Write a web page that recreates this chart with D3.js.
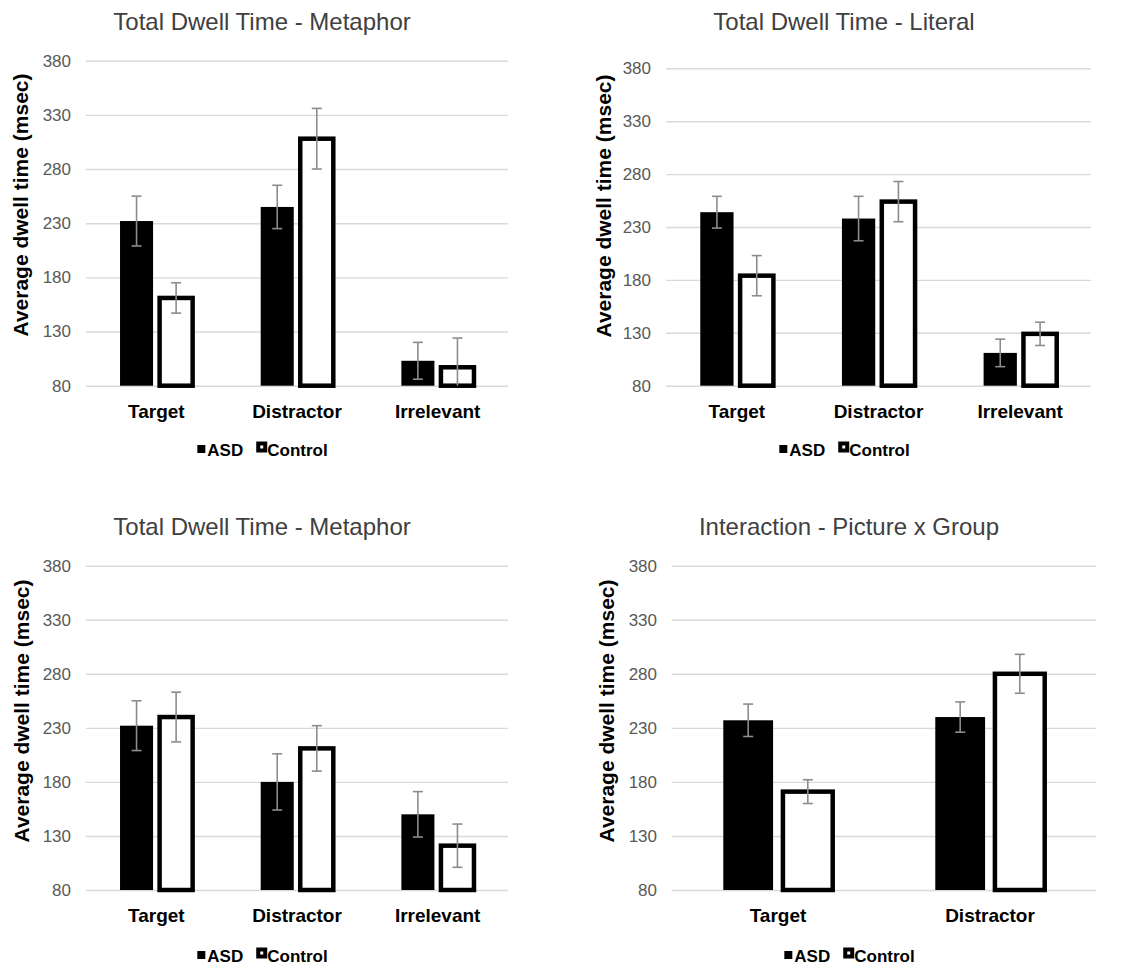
<!DOCTYPE html>
<html>
<head>
<meta charset="utf-8">
<script src="https://cdnjs.cloudflare.com/ajax/libs/d3/7.8.5/d3.min.js"></script>
<style>
  body { margin: 0; background: #fff; }
  svg { font-family: "Liberation Sans", Arial, sans-serif; }
</style>
</head>
<body>
<svg id="chart" width="1135" height="966"></svg>
<script>
// ---- data ----
const categories3 = ["Target", "Distractor", "Irrelevant"];
const categories2 = ["Target", "Distractor"];
const groups = ["ASD", "Control"];
const yTicks = [80, 130, 180, 230, 280, 330, 380];
const titles = [
  "Total Dwell Time - Metaphor",
  "Total Dwell Time - Literal",
  "Total Dwell Time - Metaphor",
  "Interaction - Picture x Group"
];
const yLabel = "Average dwell time (msec)";

const metaphorASD = [232, 245, 103];
const metaphorControl = [161, 308, 97];
const metaphorASDErr = [23, 20, 17];
const metaphorControlErr = [14, 28, 27];

const literalASD = [244, 238, 111];
const literalControl = [184, 254, 129];
const literalASDErr = [15, 21, 13];
const literalControlErr = [19, 19, 11];

const metaphor2ASD = [232, 180, 150];
const metaphor2Control = [240, 211, 121];
const metaphor2ASDErr = [23, 26, 21];
const metaphor2ControlErr = [23, 21, 20];

const interactionASD = [237, 240];
const interactionControl = [171, 280];
const interactionASDErr = [15, 14];
const interactionControlErr = [11, 18];

// ---- layout for the four panels ----
const panels = [
  { title: titles[0], cats: categories3, asd: metaphorASD, ctrl: metaphorControl, asdErr: metaphorASDErr, ctrlErr: metaphorControlErr,
    left: 86, right: 508, top: 60.7, bottom: 385.7, cx: 262, titleY: 30, labelX: 28, labelY: 205, legendY: 456 },
  { title: titles[1], cats: categories3, asd: literalASD, ctrl: literalControl, asdErr: literalASDErr, ctrlErr: literalControlErr,
    left: 666, right: 1091, top: 68.3, bottom: 385.7, cx: 844, titleY: 30, labelX: 611, labelY: 206, legendY: 456 },
  { title: titles[2], cats: categories3, asd: metaphor2ASD, ctrl: metaphor2Control, asdErr: metaphor2ASDErr, ctrlErr: metaphor2ControlErr,
    left: 86, right: 508, top: 565.7, bottom: 890, cx: 262, titleY: 535, labelX: 29, labelY: 711, legendY: 962 },
  { title: titles[3], cats: categories2, asd: interactionASD, ctrl: interactionControl, asdErr: interactionASDErr, ctrlErr: interactionControlErr,
    left: 672, right: 1096, top: 565.7, bottom: 890, cx: 849, titleY: 535, labelX: 614, labelY: 711, legendY: 962 }
];

const svg = d3.select("#chart");

panels.forEach(p => drawPanel(p));

function drawPanel(p) {
  const g = svg.append("g");

  const x0 = d3.scaleBand()
    .domain(p.cats)
    .range([p.left, p.right])
    .padding(0);

  const x1 = d3.scaleBand()
    .domain(groups)
    .range([0, x0.bandwidth()])
    .paddingInner(0.165)
    .paddingOuter(0.86);

  const y = d3.scaleLinear()
    .domain([80, 380])
    .range([p.bottom, p.top]);

  // gridlines + tick labels
  const axis = g.append("g")
    .attr("transform", `translate(${p.left},0)`)
    .call(d3.axisLeft(y).tickValues(yTicks).tickSize(-(p.right - p.left)).tickPadding(15));
  axis.select(".domain").remove();
  axis.selectAll(".tick line").attr("stroke", "#d9d9d9").attr("stroke-width", 1.4);
  axis.selectAll(".tick text")
    .attr("fill", "#595959")
    .style("font-size", "17px")
    .style("font-family", "'Liberation Sans', Arial, sans-serif");

  // title
  g.append("text")
    .attr("x", p.cx)
    .attr("y", p.titleY)
    .attr("text-anchor", "middle")
    .attr("fill", "#404040")
    .style("font-size", "24px")
    .text(p.title);

  // y label
  g.append("text")
    .attr("transform", `translate(${p.labelX},${p.labelY}) rotate(-90)`)
    .attr("text-anchor", "middle")
    .attr("fill", "#000")
    .style("font-size", "21px")
    .style("font-weight", "bold")
    .text(yLabel);

  // category labels
  g.selectAll(".cat")
    .data(p.cats)
    .enter()
    .append("text")
    .attr("x", d => x0(d) + x0.bandwidth() / 2)
    .attr("y", p.bottom + 32)
    .attr("text-anchor", "middle")
    .style("font-size", "19px")
    .style("font-weight", "bold")
    .text(d => d);

  const rows = p.cats.map((c, i) => [
    { cat: c, grp: "ASD", v: p.asd[i], e: p.asdErr[i] },
    { cat: c, grp: "Control", v: p.ctrl[i], e: p.ctrlErr[i] }
  ]).flat();

  // bars
  g.selectAll(".bar")
    .data(rows)
    .enter()
    .append("rect")
    .attr("x", d => x0(d.cat) + x1(d.grp))
    .attr("y", d => y(d.v))
    .attr("width", x1.bandwidth())
    .attr("height", d => y(80) - y(d.v))
    .attr("fill", d => d.grp === "ASD" ? "#000" : "#fff")
    .attr("stroke", d => d.grp === "ASD" ? "none" : "#000")
    .attr("stroke-width", 4.5);

  // error bars
  const cap = 5;
  const eb = g.selectAll(".err")
    .data(rows)
    .enter()
    .append("g")
    .attr("stroke", "#8c8c8c")
    .attr("stroke-width", 1.6);
  eb.append("line")
    .attr("x1", d => x0(d.cat) + x1(d.grp) + x1.bandwidth() / 2)
    .attr("x2", d => x0(d.cat) + x1(d.grp) + x1.bandwidth() / 2)
    .attr("y1", d => y(d.v + d.e))
    .attr("y2", d => y(Math.max(80, d.v - d.e)));
  eb.append("line")
    .attr("x1", d => x0(d.cat) + x1(d.grp) + x1.bandwidth() / 2 - cap)
    .attr("x2", d => x0(d.cat) + x1(d.grp) + x1.bandwidth() / 2 + cap)
    .attr("y1", d => y(d.v + d.e))
    .attr("y2", d => y(d.v + d.e));
  eb.filter(d => d.v - d.e > 80).append("line")
    .attr("x1", d => x0(d.cat) + x1(d.grp) + x1.bandwidth() / 2 - cap)
    .attr("x2", d => x0(d.cat) + x1(d.grp) + x1.bandwidth() / 2 + cap)
    .attr("y1", d => y(d.v - d.e))
    .attr("y2", d => y(d.v - d.e));

  // legend
  const leg = g.append("g");
  let cursor = 0;
  groups.forEach((name, i) => {
    const item = leg.append("g").attr("transform", `translate(${cursor},0)`);
    if (name === "ASD") {
      item.append("rect").attr("x", 1).attr("y", -11).attr("width", 8).attr("height", 8).attr("fill", "#000");
    } else {
      item.append("rect").attr("x", 2).attr("y", -12.5).attr("width", 7).attr("height", 7)
        .attr("fill", "#fff").attr("stroke", "#000").attr("stroke-width", 4);
    }
    const t = item.append("text")
      .attr("x", 11)
      .attr("y", 0)
      .style("font-size", "17px")
      .style("font-weight", "bold")
      .text(name);
    cursor += 11 + t.node().getComputedTextLength() + 13;
  });
  const legW = cursor - 13;
  leg.attr("transform", `translate(${p.cx - legW / 2},${p.legendY})`);
}
</script>
</body>
</html>
